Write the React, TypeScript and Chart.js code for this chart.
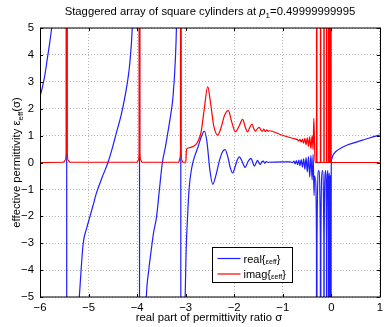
import React, { useEffect, useRef } from 'react';
import { Chart, registerables } from 'chart.js';

Chart.register(...registerables);

const FONT = '"Liberation Sans", Arial, Helvetica, sans-serif';

const TITLE_PREFIX = 'Staggered array of square cylinders at ';
const TITLE_VAR = 'p';
const TITLE_SUB = '1';
const TITLE_SUFFIX = '=0.49999999995';
const X_LABEL = 'real part of permittivity ratio σ';
const Y_LABEL_MAIN = 'effective permittivity ε';
const Y_LABEL_SUB = 'eff';
const Y_LABEL_END = '(σ)';
const LEGEND_NAMES = ['real', 'imag'];

const X_MIN = -6;
const X_MAX = 1;
const Y_MIN = -5;
const Y_MAX = 5;
const xTickValues = [-6, -5, -4, -3, -2, -1, 0, 1];
const yTickValues = [-5, -4, -3, -2, -1, 0, 1, 2, 3, 4, 5];

// real{eps_eff}(sigma)
const realSeries: [number, number][] = [
  [-6, 2.45], [-5.95, 2.8], [-5.9, 3.25], [-5.85, 3.85], [-5.8, 4.45], [-5.76, 5.0], [-5.7, 6.1],
  [-5.6, 9.0], [-5.52, 20], [-5.455, 90], [-5.445, -90], [-5.38, -25], [-5.3, -10], [-5.25, -7],
  [-5.19, -5.0], [-5.15, -3.9], [-5.11, -3.0], [-5.04, -2.45], [-4.97, -2.0], [-4.9, -1.55],
  [-4.84, -1.15], [-4.72, -0.55], [-4.6, 0], [-4.5, 0.6], [-4.43, 1.08], [-4.33, 1.75],
  [-4.25, 2.45], [-4.19, 3.1], [-4.15, 3.7], [-4.1, 5.0], [-4.05, 8], [-3.99, 25], [-3.955, 90],
  [-3.945, -90], [-3.9, -18], [-3.85, -7.5], [-3.81, -5.0], [-3.76, -4.0], [-3.71, -3.27],
  [-3.66, -2.6], [-3.6, -2.03], [-3.54, -1.0], [-3.48, 0], [-3.42, 0.55], [-3.37, 1.08],
  [-3.31, 1.75], [-3.26, 2.45], [-3.21, 3.9], [-3.19, 5.0], [-3.16, 8], [-3.12, 25], [-3.105, 90],
  [-3.095, -90], [-3.05, -14], [-3.01, -5.0], [-2.99, -3.27], [-2.96, -2.0], [-2.93, -1.0],
  [-2.88, -0.25], [-2.82, 0.2], [-2.75, 0.55], [-2.68, 0.95], [-2.613, 1.17], [-2.56, 0.75],
  [-2.5, -0.3], [-2.442, -0.81], [-2.38, -0.5], [-2.3, 0.1], [-2.24, 0.4], [-2.188, 0.48],
  [-2.13, 0.2], [-2.08, -0.2], [-2.032, -0.39], [-1.98, -0.15], [-1.93, 0.12], [-1.894, 0.21],
  [-1.84, 0.05], [-1.8, -0.12], [-1.777, -0.19], [-1.72, 0.02], [-1.68, 0.12], [-1.654, 0.15],
  [-1.62, 0.02], [-1.586, -0.14], [-1.55, -0.02], [-1.52, 0.08], [-1.49, -0.02], [-1.46, -0.07],
  [-1.43, 0.03], [-1.4, 0.05], [-1.37, -0.03], [-1.34, 0.03], [-1.3, 0.01], [-1.0, 0.02],
  [-0.85, 0.02], [-0.8, 0.0], [-0.77, 0.05], [-0.745, -0.05], [-0.72, 0.07], [-0.695, -0.08],
  [-0.67, 0.09], [-0.645, -0.12], [-0.62, 0.11], [-0.595, -0.17], [-0.57, 0.14], [-0.545, -0.25],
  [-0.52, 0.18], [-0.495, -0.35], [-0.47, 0.22], [-0.445, -0.54], [-0.42, 0.27], [-0.395, -0.65],
  [-0.375, 0.3], [-0.355, -1.22], [-0.345, -0.5], [-0.33, -0.6], [-0.305, -3], [-0.3, -90],
  [-0.295, -3], [-0.26, -0.3], [-0.225, -3], [-0.22, -90], [-0.215, -3], [-0.185, -0.3],
  [-0.153, -3], [-0.15, -90], [-0.147, -3], [-0.12, -0.3], [-0.098, -3], [-0.095, -90],
  [-0.092, -3], [-0.075, -0.3], [-0.057, -3], [-0.055, -90], [-0.053, -3], [-0.042, -0.4],
  [-0.032, -3], [-0.03, -90], [-0.028, -3], [-0.02, -0.5], [-0.016, -3], [-0.015, -90],
  [-0.014, -3], [-0.01, -0.5], [-0.006, -3], [-0.005, -90], [-0.004, -3], [-0.002, -0.5],
  [0, 0], [0.01, 0.13], [0.03, 0.25], [0.06, 0.34], [0.1, 0.42], [0.2, 0.54], [0.33, 0.65],
  [0.5, 0.75], [0.64, 0.83], [0.8, 0.92], [1.0, 1.02],
];

// imag{eps_eff}(sigma)
const imagSeries: [number, number][] = [
  [-6, 0], [-5.52, 0.01], [-5.48, 0.08], [-5.462, 0.35], [-5.45, 90], [-5.438, 0.35], [-5.42, 0.08],
  [-5.38, 0.01], [-4.0, 0.01], [-3.975, 0.08], [-3.958, 0.4], [-3.95, 90], [-3.942, 0.4],
  [-3.925, 0.08], [-3.9, 0.01], [-3.14, 0.01], [-3.12, 0.15], [-3.106, 0.5], [-3.1, 90],
  [-3.094, 0.5], [-3.08, 0.1], [-3.06, 0.01], [-2.995, 0.01], [-2.985, 0.45], [-2.96, 0.53],
  [-2.9, 0.56], [-2.82, 0.62], [-2.75, 0.77], [-2.68, 1.15], [-2.62, 1.95], [-2.545, 2.82],
  [-2.49, 2.25], [-2.42, 1.35], [-2.34, 1.02], [-2.27, 1.3], [-2.2, 1.75], [-2.12, 1.93],
  [-2.05, 1.5], [-1.976, 1.14], [-1.9, 1.35], [-1.826, 1.6], [-1.77, 1.3], [-1.724, 1.14],
  [-1.68, 1.3], [-1.633, 1.43], [-1.6, 1.27], [-1.566, 1.17], [-1.525, 1.25], [-1.484, 1.31],
  [-1.45, 1.2], [-1.42, 1.16], [-1.39, 1.24], [-1.36, 1.15], [-1.33, 1.21], [-1.3, 1.16],
  [-1.28, 1.18], [-1.04, 1.03], [-0.8, 0.9], [-0.7, 0.85], [-0.67, 0.8], [-0.645, 0.86],
  [-0.62, 0.76], [-0.595, 0.87], [-0.57, 0.72], [-0.545, 0.9], [-0.52, 0.66], [-0.495, 0.92],
  [-0.47, 0.6], [-0.445, 0.95], [-0.42, 0.52], [-0.395, 1.0], [-0.375, 0.48], [-0.36, 1.64],
  [-0.345, 0.7], [-0.335, 0.0], [-0.304, 0], [-0.3, 90], [-0.296, 0], [-0.224, 0], [-0.22, 90],
  [-0.216, 0], [-0.153, 0], [-0.15, 90], [-0.147, 0], [-0.098, 0], [-0.095, 90], [-0.092, 0],
  [-0.057, 0], [-0.055, 90], [-0.053, 0], [-0.032, 0], [-0.03, 90], [-0.028, 0], [-0.016, 0],
  [-0.015, 90], [-0.014, 0], [-0.006, 0], [-0.005, 90], [-0.004, 0], [1, 0],
];

const BLUE = 'rgb(30,30,255)';
const RED = 'rgb(255,0,0)';

const fmtTick = (v: number) => (v < 0 ? '\u2212' + Math.abs(v) : String(v));

const overlayPlugin = {
  id: 'overlay',
  afterDraw(chart: any) {
    const { ctx, chartArea: a, scales } = chart;
    const xs = scales.x;
    const ys = scales.y;
    ctx.save();
    ctx.strokeStyle = '#000';
    ctx.lineWidth = 1;
    // inward tick marks
    ctx.beginPath();
    for (const v of xTickValues) {
      const px = Math.round(xs.getPixelForValue(v)) + 0.5;
      ctx.moveTo(px, a.bottom);
      ctx.lineTo(px, a.bottom - 3);
      ctx.moveTo(px, a.top);
      ctx.lineTo(px, a.top + 3);
    }
    for (const v of yTickValues) {
      const py = Math.round(ys.getPixelForValue(v)) + 0.5;
      ctx.moveTo(a.left, py);
      ctx.lineTo(a.left + 3, py);
      ctx.moveTo(a.right, py);
      ctx.lineTo(a.right - 3, py);
    }
    ctx.stroke();
    // axes box
    ctx.strokeRect(Math.round(a.left) + 0.5, Math.round(a.top), Math.round(a.right - a.left), Math.round(a.bottom - a.top));

    const cx = (a.left + a.right) / 2;
    const fMain = `11px ${FONT}`;
    const fTitle = `11.3px ${FONT}`;
    const fIt = `italic 11.3px ${FONT}`;
    const fSub = `8px ${FONT}`;
    ctx.fillStyle = '#000';
    ctx.textBaseline = 'alphabetic';
    ctx.textAlign = 'left';

    // title
    ctx.font = fTitle;
    const w1 = ctx.measureText(TITLE_PREFIX).width;
    const w4 = ctx.measureText(TITLE_SUFFIX).width;
    ctx.font = fIt;
    const w2 = ctx.measureText(TITLE_VAR).width;
    ctx.font = fSub;
    const w3 = ctx.measureText(TITLE_SUB).width;
    let tx = cx - (w1 + w2 + w3 + w4) / 2;
    const ty = 15;
    ctx.font = fTitle;
    ctx.fillText(TITLE_PREFIX, tx, ty);
    tx += w1;
    ctx.font = fIt;
    ctx.fillText(TITLE_VAR, tx, ty);
    tx += w2;
    ctx.font = fSub;
    ctx.fillText(TITLE_SUB, tx, ty + 3);
    tx += w3;
    ctx.font = fTitle;
    ctx.fillText(TITLE_SUFFIX, tx, ty);

    // x label
    ctx.font = fTitle;
    ctx.textAlign = 'center';
    ctx.fillText(X_LABEL, cx - 1, 321);
    ctx.textAlign = 'left';

    // y label
    ctx.save();
    ctx.translate(20, (a.top + a.bottom) / 2);
    ctx.rotate(-Math.PI / 2);
    ctx.font = fTitle;
    const ya = ctx.measureText(Y_LABEL_MAIN).width;
    const yc = ctx.measureText(Y_LABEL_END).width;
    ctx.font = fSub;
    const yb = ctx.measureText(Y_LABEL_SUB).width;
    let lx = -(ya + yb + yc) / 2;
    ctx.font = fTitle;
    ctx.fillText(Y_LABEL_MAIN, lx, 0);
    lx += ya;
    ctx.font = fSub;
    ctx.fillText(Y_LABEL_SUB, lx, 3);
    lx += yb;
    ctx.font = fTitle;
    ctx.fillText(Y_LABEL_END, lx, 0);
    ctx.restore();

    // legend
    const lgX = 212.5;
    const lgY = 247.5;
    const lgW = 80;
    const lgH = 35;
    ctx.fillStyle = '#fff';
    ctx.fillRect(lgX, lgY, lgW, lgH);
    ctx.strokeStyle = '#000';
    ctx.lineWidth = 1;
    ctx.strokeRect(lgX, lgY, lgW, lgH);
    const colors = [BLUE, RED];
    LEGEND_NAMES.forEach((name, i) => {
      const rowY = lgY + 11 + i * 15.5;
      ctx.strokeStyle = colors[i];
      ctx.lineWidth = 1.2;
      ctx.beginPath();
      ctx.moveTo(lgX + 5, rowY);
      ctx.lineTo(lgX + 28, rowY);
      ctx.stroke();
      ctx.fillStyle = '#000';
      let x = lgX + 31;
      const by = rowY + 4;
      ctx.font = fMain;
      ctx.fillText(name + '{', x, by);
      x += ctx.measureText(name + '{').width;
      ctx.font = `8px ${FONT}`;
      ctx.fillText('ε', x, by + 1);
      x += ctx.measureText('ε').width;
      ctx.font = `7px ${FONT}`;
      ctx.fillText('eff', x, by + 1);
      x += ctx.measureText('eff').width;
      ctx.font = fMain;
      ctx.fillText('}', x, by);
    });
    ctx.restore();
  },
};

export default function App() {
  const canvasRef = useRef<HTMLCanvasElement | null>(null);

  useEffect(() => {
    document.body.style.margin = '0';
    const canvas = canvasRef.current;
    if (!canvas) return;
    const gridColor = 'rgba(130,130,130,0.6)';
    const chart = new Chart(canvas, {
      type: 'scatter',
      data: {
        datasets: [
          {
            label: LEGEND_NAMES[0],
            data: realSeries.map(([x, y]) => ({ x, y })),
            showLine: true,
            borderColor: BLUE,
            borderWidth: 1.2,
            pointRadius: 0,
            cubicInterpolationMode: 'monotone',
            order: 1,
          },
          {
            label: LEGEND_NAMES[1],
            data: imagSeries.map(([x, y]) => ({ x, y })),
            showLine: true,
            borderColor: RED,
            borderWidth: 1.2,
            pointRadius: 0,
            cubicInterpolationMode: 'monotone',
            order: 0,
          },
        ],
      },
      options: {
        responsive: false,
        animation: false,
        devicePixelRatio: 1,
        layout: { padding: { top: 28, right: 6, bottom: 0, left: 0 } },
        plugins: {
          legend: { display: false },
          tooltip: { enabled: false },
          title: { display: false },
        },
        scales: {
          x: {
            type: 'linear',
            min: X_MIN,
            max: X_MAX,
            afterFit: (s: any) => {
              s.height = 30;
            },
            afterBuildTicks: (s: any) => {
              s.ticks = xTickValues.map((v) => ({ value: v }));
            },
            ticks: {
              padding: 4,
              maxRotation: 0,
              autoSkip: false,
              color: '#000',
              font: { family: FONT, size: 11.3 },
              callback: (v: any) => fmtTick(Number(v)),
            },
            grid: { color: gridColor, drawTicks: false, lineWidth: 1 },
            border: { display: false, dash: [1, 2] },
          },
          y: {
            type: 'linear',
            min: Y_MIN,
            max: Y_MAX,
            afterFit: (s: any) => {
              s.width = 40;
            },
            afterBuildTicks: (s: any) => {
              s.ticks = yTickValues.map((v) => ({ value: v }));
            },
            ticks: {
              padding: 6,
              autoSkip: false,
              color: '#000',
              font: { family: FONT, size: 11.3 },
              callback: (v: any) => fmtTick(Number(v)),
            },
            grid: { color: gridColor, drawTicks: false, lineWidth: 1 },
            border: { display: false, dash: [1, 2] },
          },
        },
      } as any,
      plugins: [overlayPlugin],
    });
    return () => chart.destroy();
  }, []);

  return (
    <div style={{ width: 387, height: 327, background: '#fff' }}>
      <canvas ref={canvasRef} width={387} height={327} style={{ display: 'block' }} />
    </div>
  );
}
